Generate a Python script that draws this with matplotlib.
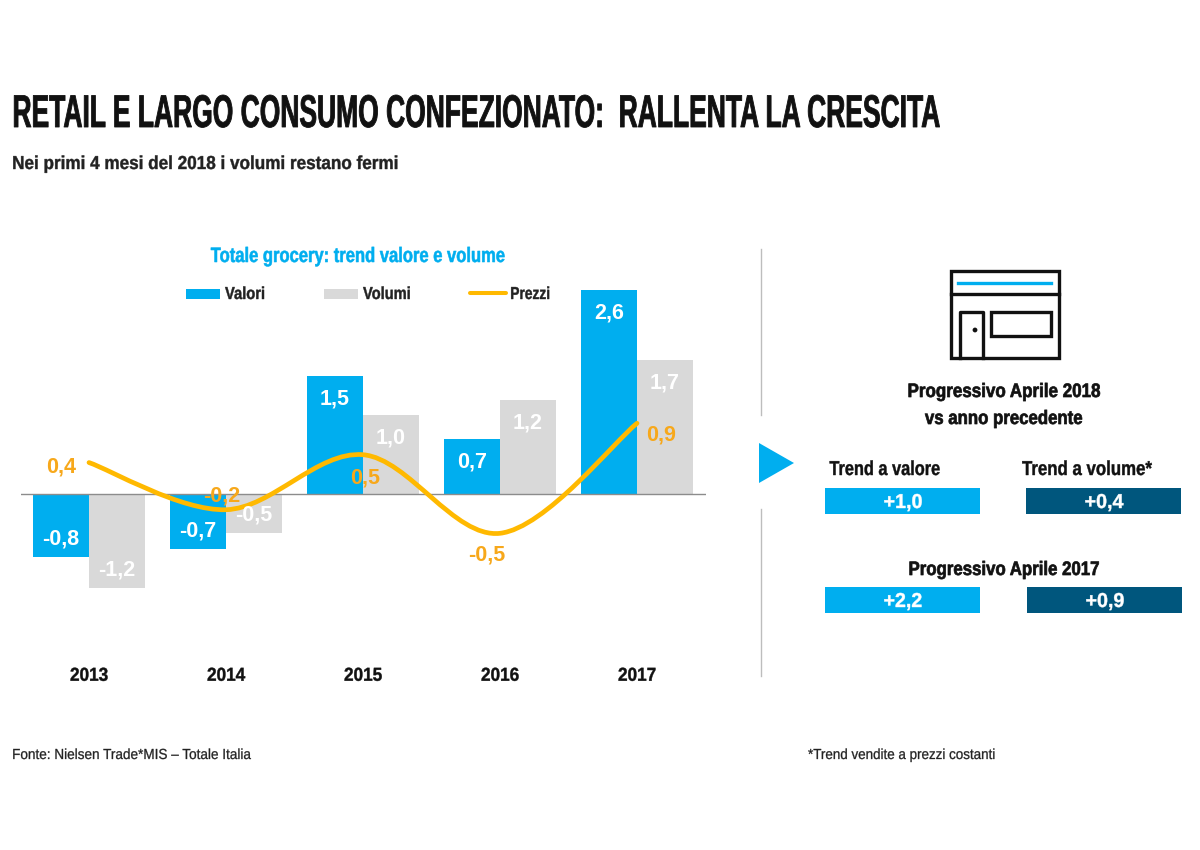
import matplotlib
matplotlib.use("Agg")
import matplotlib.pyplot as plt
from matplotlib.patches import PathPatch, Polygon, Rectangle, Circle
from matplotlib.path import Path
from matplotlib.patheffects import AbstractPathEffect
from matplotlib.transforms import Affine2D, Bbox

plt.rcParams['font.family'] = ['Liberation Sans', 'DejaVu Sans']

anni = ['2013', '2014', '2015', '2016', '2017']
valori = [-0.8, -0.7, 1.5, 0.7, 2.6]
volumi = [-1.2, -0.5, 1.0, 1.2, 1.7]
prezzi = [0.4, -0.2, 0.5, -0.5, 0.9]

box_labels = ['+1,0', '+0,4', '+2,2', '+0,9']

BLU = '#00AEEF'
GRIGIO = '#D9D9D9'
ARANCIO = '#FFB900'
ARANCIO_TXT = '#F7A81B'
SCURO = '#00567D'
NERO = '#111111'
W, H = 1200, 850


class Stretta(AbstractPathEffect):
    # no condensed font installed: squeeze the glyphs sideways when drawing
    def __init__(self, sx, ha, extra=0, sy=1):
        super().__init__()
        self.sx, self.ha, self.extra, self.sy = sx, ha, extra, sy

    def draw_path(self, renderer, gc, tpath, affine, rgbFace=None):
        ext = tpath.transformed(affine).get_extents()
        x0 = ext.x0 if self.ha == 'left' else (ext.x0 + ext.x1) / 2
        y0 = affine.get_matrix()[1, 2]
        aff = affine + Affine2D().translate(-x0, -y0).scale(self.sx, self.sy).translate(x0, y0)
        gc0 = renderer.new_gc()
        gc0.copy_properties(gc)
        if self.extra:
            gc0.set_linewidth(self.extra)
            gc0.set_foreground(rgbFace)
            gc0.set_joinstyle('round')
        renderer.draw_path(gc0, tpath, aff, rgbFace)
        gc0.restore()


def stringi(t, larghezza, extra=0.3, sy=1):
    r = fig.canvas.get_renderer()
    sx = larghezza / t.get_window_extent(r).width
    ha = t.get_ha()
    t.set_path_effects([Stretta(sx, ha, extra, sy)])
    orig = t.get_window_extent

    def extent(renderer=None, dpi=None):
        b = orig(renderer, dpi)
        if ha == 'left':
            return Bbox.from_extents(b.x0, b.y0, b.x0 + b.width * sx, b.y1)
        xc = (b.x0 + b.x1) / 2
        return Bbox.from_extents(xc - b.width * sx / 2, b.y0, xc + b.width * sx / 2, b.y1)

    t.get_window_extent = extent
    return t


def testo(x, y, s, size, larghezza, color=NERO, ha='left', weight='bold', extra=0.3, sy=1):
    t = ov.text(x, y, s, fontsize=size, fontweight=weight, color=color, ha=ha, va='baseline')
    return stringi(t, larghezza, extra, sy)


def virgola(v):
    return f'{v:.1f}'.replace('.', ',')


def curva_liscia(xs, ys):
    # smoothed line through the points, like the spreadsheet one
    verts = [(xs[0], ys[0])]
    codes = [Path.MOVETO]
    n = len(xs)
    for i in range(n - 1):
        p0 = i - 1 if i > 0 else i
        p3 = i + 2 if i + 2 < n else i + 1
        verts.append((xs[i] + (xs[i + 1] - xs[p0]) / 6, ys[i] + (ys[i + 1] - ys[p0]) / 6))
        verts.append((xs[i + 1] - (xs[p3] - xs[i]) / 6, ys[i + 1] - (ys[p3] - ys[i]) / 6))
        verts.append((xs[i + 1], ys[i + 1]))
        codes += [Path.CURVE4] * 3
    return Path(verts, codes)


fig = plt.figure(figsize=(12, 8.5), dpi=100, facecolor='white')

# chart: 685 px wide, 78.6 px per unit, zero at y=494
top, bottom = 280, 640
ax = fig.add_axes([20.5 / W, 1 - bottom / H, 685 / W, (bottom - top) / H])
ax.set_xlim(-0.5, 4.5)
ax.set_ylim((494 - bottom) / 78.6, (494 - top) / 78.6)
ax.patch.set_alpha(0)
for s in ax.spines.values():
    s.set_visible(False)

x = list(range(len(anni)))
larg = 56 / 137
ax.bar([i - larg / 2 for i in x], valori, larg, color=BLU, zorder=2)
ax.bar([i + larg / 2 for i in x], volumi, larg, color=GRIGIO, zorder=2)
ax.axhline(0, color='#8C8C8C', lw=1, zorder=3)
ax.add_patch(PathPatch(curva_liscia(x, prezzi), fc='none', ec=ARANCIO, lw=3.4, capstyle='round', zorder=4))

ax.set_yticks([])
ax.set_xticks(x)
ax.set_xticklabels(anni, fontsize=13.5, fontweight='bold', color=NERO)
ax.tick_params(axis='x', length=0, pad=20)
for lab in ax.get_xticklabels():
    stringi(lab, 38)

for i in x:
    for off, serie in [(-larg / 2, valori), (larg / 2, volumi)]:
        v = serie[i]
        dy = -23 if v > 0 else 18
        ax.annotate(virgola(v), (i + off, v), xytext=(0, dy), textcoords='offset pixels',
                    ha='center', va='center', color='white', fontsize=15.5, fontweight='bold', zorder=5)

off_prezzi = [(-28, -4), (-4, 14), (2, -23), (-13, -22), (24, -12)]
for i in x:
    ax.annotate(virgola(prezzi[i]), (i, prezzi[i]), xytext=off_prezzi[i], textcoords='offset pixels',
                ha='center', va='center', color=ARANCIO_TXT, fontsize=15.5, fontweight='bold', zorder=6)

# everything else in pixel coordinates
ov = fig.add_axes([0, 0, 1, 1])
ov.set_xlim(0, W)
ov.set_ylim(H, 0)
ov.axis('off')
ov.patch.set_alpha(0)

# title set small and pulled up to height, so its box stays inside the figure
testo(12, 127, 'RETAIL E LARGO CONSUMO CONFEZIONATO:  RALLENTA LA CRESCITA', 24, 928, extra=0.6, sy=33 / 24)
testo(12, 169, 'Nei primi 4 mesi del 2018 i volumi restano fermi', 13.5, 386, color='#222222')
testo(359, 262, 'Totale grocery: trend valore e volume', 15, 296, color=BLU, ha='center', extra=0.4)

# legend
ov.add_patch(Rectangle((186, 289), 34, 10, color=BLU, lw=0))
testo(225, 299, 'Valori', 12.5, 40, color='#222222')
ov.add_patch(Rectangle((324, 289), 34, 10, color=GRIGIO, lw=0))
testo(363, 299, 'Volumi', 12.5, 48, color='#222222')
ov.plot([470, 506], [293, 293], color=ARANCIO, lw=2.9, solid_capstyle='round')
testo(510, 299, 'Prezzi', 12.5, 40, color='#222222')

# divider and arrow
ov.plot([761, 761], [249, 415], color='#BDBDBD', lw=1)
ov.plot([761, 761], [509, 676], color='#BDBDBD', lw=1)
ov.add_patch(Polygon([(759, 443), (794, 463), (759, 483)], closed=True, color=BLU, lw=0))

# shop icon
ov.add_patch(Rectangle((951, 271), 108, 87, fc='none', ec=NERO, lw=2.4))
ov.plot([951, 1059], [294, 294], color=NERO, lw=2.4)
ov.plot([958, 1051], [283, 283], color=BLU, lw=2.4)
ov.plot([960, 960, 983, 983], [358, 312, 312, 358], color=NERO, lw=2.4)
ov.add_patch(Circle((975, 330), 2.4, color=NERO, lw=0))
ov.add_patch(Rectangle((991, 312), 60, 24, fc='none', ec=NERO, lw=2.4))

# right panel
testo(1004, 397, 'Progressivo Aprile 2018', 14, 193, ha='center', extra=0.5)
testo(1004, 424, 'vs anno precedente', 14, 158, ha='center', extra=0.5)
testo(885, 475, 'Trend a valore', 14.5, 111, ha='center')
testo(1087, 475, 'Trend a volume*', 14.5, 130, ha='center')
testo(1004, 575, 'Progressivo Aprile 2017', 14, 191, ha='center', extra=0.5)

caselle = [(825, 488, BLU), (1026, 488, SCURO), (825, 587, BLU), (1027, 587, SCURO)]
for (bx, by, col), lab in zip(caselle, box_labels):
    ov.add_patch(Rectangle((bx, by), 155, 26, color=col, lw=0))
    testo(bx + 78, by + 20, lab, 14.5, 39, color='white', ha='center')

# footer
testo(12, 759, 'Fonte: Nielsen Trade*MIS – Totale Italia', 10.5, 241, color='#222222', weight='normal', extra=0.2)
testo(808, 759, '*Trend vendite a prezzi costanti', 10.5, 189, color='#222222', weight='normal', extra=0.2)

fig.savefig('out.png', dpi=100)
